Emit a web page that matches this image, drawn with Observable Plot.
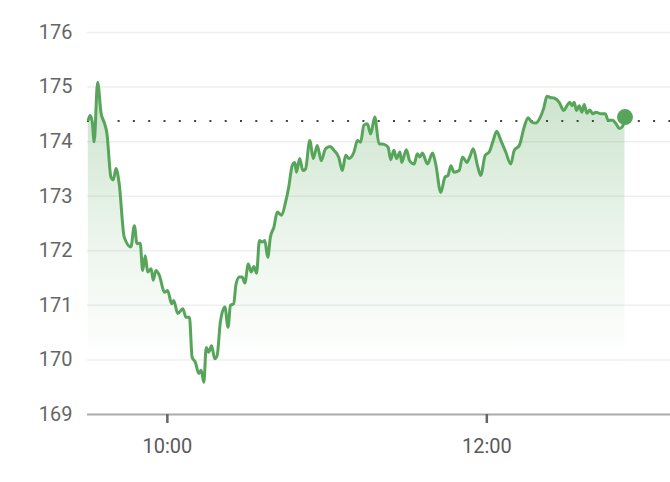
<!DOCTYPE html>
<html>
<head>
<meta charset="utf-8">
<script src="https://cdn.jsdelivr.net/npm/d3@7"></script>
<script src="https://cdn.jsdelivr.net/npm/@observablehq/plot@0.6"></script>
<style>
  html, body { margin: 0; padding: 0; background: #fff; }
  #chart svg { display: block; }
</style>
</head>
<body>
<div id="chart"></div>
<script>
// minutes after 09:30
const minutes = [0.3,1.0,1.8,2.5,3.8,5.1,6.3,7.3,8.8,9.7,10.7,11.9,13.8,16.3,17.6,18.6,19.8,20.7,21.7,22.6,23.9,24.7,25.7,27.0,28.9,30.1,31.6,32.4,33.9,35.8,37.0,38.3,39.3,40.5,41.8,42.7,43.7,44.6,45.5,46.6,47.8,48.7,49.9,51.6,52.8,53.7,54.9,55.8,57.1,58.1,59.1,60.4,61.5,62.5,63.5,64.6,65.6,66.6,67.7,68.7,70.0,71.3,72.9,74.4,75.6,76.9,77.9,78.5,79.7,80.9,81.9,83.5,84.8,86.3,87.8,89.4,91.1,92.6,94.4,95.7,97.0,98.2,100.1,101.4,102.6,103.8,105.1,106.4,107.9,109.5,111.4,112.9,113.9,115.1,116.1,117.4,118.0,119.8,121.0,122.7,123.9,124.8,125.8,127.7,129.6,130.8,132.7,134.3,135.4,136.5,137.7,139.6,140.9,142.5,143.6,144.9,146.5,147.7,149.4,150.9,152.4,153.7,155.3,157.1,159.0,160.3,162.2,164.0,165.5,166.8,168.4,170.1,171.3,172.6,173.8,175.3,177.2,178.9,180.1,181.2,182.0,182.8,183.7,184.7,185.7,186.6,187.6,188.7,189.8,191.0,192.9,194.5,195.6,197.3,198.5,199.8,201.0,201.9];
const prices = [174.40,174.48,174.35,174.00,175.09,174.52,174.35,174.15,173.35,173.30,173.51,173.23,172.25,172.07,172.46,172.13,172.14,171.64,171.91,171.61,171.67,171.46,171.64,171.55,171.24,171.27,171.03,171.09,170.85,170.94,170.78,170.78,170.05,169.96,169.75,169.81,169.59,170.23,170.14,170.26,170.02,170.08,170.69,170.97,170.60,171.00,171.03,171.39,171.52,171.52,171.41,171.76,171.61,171.71,171.59,172.19,172.16,172.19,171.88,172.25,172.43,172.71,172.65,172.89,173.17,173.56,173.62,173.44,173.69,173.47,173.50,174.02,173.69,173.93,173.65,173.87,173.91,173.84,173.71,173.47,173.75,173.69,173.81,174.02,173.99,174.30,174.33,174.14,174.45,173.96,173.95,173.90,173.67,173.84,173.69,173.81,173.62,173.85,173.65,173.59,173.78,173.72,173.79,173.59,173.79,173.59,173.07,173.35,173.38,173.56,173.44,173.47,173.72,173.62,173.72,173.87,173.56,173.38,173.75,173.81,174.02,174.19,174.02,173.81,173.59,173.84,173.93,174.26,174.44,174.36,174.34,174.45,174.60,174.83,174.81,174.80,174.72,174.57,174.66,174.72,174.66,174.72,174.57,174.66,174.54,174.68,174.52,174.58,174.51,174.54,174.51,174.51,174.39,174.39,174.33,174.24,174.28,174.45];
const previousClose = 174.38;
const yTicks = [169,170,171,172,173,174,175,176];
const xTickLabels = ["10:00","12:00"];
const sessionStart = "09:30";
const axisEnd = "13:09";

const base = Date.UTC(2024, 0, 2);
const parseHM = s => { const [h, m] = s.split(":").map(Number); return new Date(base + (h * 60 + m) * 60000); };
const start = parseHM(sessionStart);
const data = minutes.map((m, i) => ({ t: new Date(+start + m * 60000), p: prices[i] }));
const last = data[data.length - 1];
const green = "#57a55a";

const gradient = () => {
  const ns = "http://www.w3.org/2000/svg";
  const defs = document.createElementNS(ns, "defs");
  const lg = document.createElementNS(ns, "linearGradient");
  lg.setAttribute("id", "areaGrad");
  lg.setAttribute("x1", "0"); lg.setAttribute("y1", "0");
  lg.setAttribute("x2", "0"); lg.setAttribute("y2", "1");
  [[0, 0.32], [0.45, 0.12], [0.85, 0.0]].forEach(([o, a]) => {
    const s = document.createElementNS(ns, "stop");
    s.setAttribute("offset", o);
    s.setAttribute("stop-color", green);
    s.setAttribute("stop-opacity", a);
    lg.appendChild(s);
  });
  defs.appendChild(lg);
  return defs;
};

const chart = Plot.plot({
  width: 670,
  height: 482,
  marginLeft: 87,
  marginRight: 0,
  marginTop: 32,
  marginBottom: 68,
  style: { fontFamily: "Roboto, sans-serif", fontSize: "20px", color: "#666", background: "#fff" },
  x: { type: "utc", domain: [start, parseHM(axisEnd)] },
  y: { domain: [169, 176] },
  marks: [
    gradient,
    Plot.ruleY(yTicks.filter(d => d !== 169), { stroke: "#efefef", strokeWidth: 1.5 }),
    Plot.areaY(data, { x: "t", y1: 169, y2: "p", fill: "url(#areaGrad)", curve: "monotone-x" }),
    Plot.ruleY([previousClose], { stroke: "#444", strokeWidth: 2, strokeDasharray: "2,13.3" }),
    Plot.ruleY([169], { stroke: "#aaaaaa", strokeWidth: 2 }),
    Plot.axisY({ ticks: yTicks, tickSize: 0, tickPadding: 15, tickFormat: d => String(d), fill: "#666", fontSize: 20, label: null }),
    Plot.axisX({ ticks: xTickLabels.map(parseHM), tickFormat: d3.utcFormat("%H:%M"), tickSize: 9, tickPadding: 15, stroke: "#666", strokeWidth: 2.5, fill: "#5a5a5a", fontSize: 20, label: null }),
    Plot.line(data, { x: "t", y: "p", stroke: green, strokeWidth: 3, curve: "monotone-x", strokeLinejoin: "round", strokeLinecap: "round" }),
    Plot.dot([last], { x: "t", y: "p", r: 8, fill: green, stroke: "none" })
  ]
});
document.getElementById("chart").appendChild(chart);
</script>
</body>
</html>
